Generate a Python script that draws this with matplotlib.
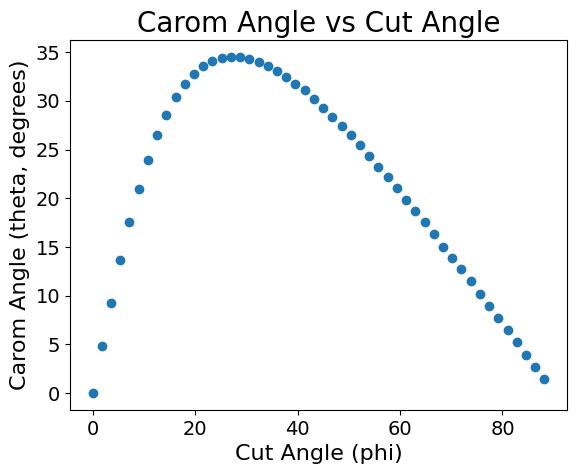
import matplotlib
matplotlib.use("Agg")
import matplotlib.pyplot as plt

# ------------------------------------------------------------
# Data
# ------------------------------------------------------------
cut_angle = [round(1.8 * i, 1) for i in range(50)]  # 0, 1.8, ..., 88.2

carom_angle = [
    0.0, 4.83, 9.31, 13.66, 17.56, 20.94, 23.92, 26.46, 28.6, 30.4,
    31.7, 32.75, 33.6, 34.1, 34.4, 34.5, 34.5, 34.3, 34.0, 33.6,
    33.1, 32.5, 31.75, 31.1, 30.2, 29.26, 28.34, 27.41, 26.49, 25.46,
    24.33, 23.2, 22.17, 21.08, 19.81, 18.68, 17.56, 16.32, 15.05, 13.86,
    12.73, 11.53, 10.16, 8.93, 7.7, 6.47, 5.24, 3.93, 2.67, 1.5,
]

# ------------------------------------------------------------
# Plot
# ------------------------------------------------------------
fig = plt.figure(figsize=(5.76, 4.74), dpi=100)
ax = fig.add_axes([0.1215, 0.135, 0.863, 0.780])

ax.scatter(cut_angle, carom_angle)

ax.set_title("Carom Angle vs Cut Angle", fontsize=20)
ax.set_xlabel("Cut Angle (phi)", fontsize=16)
ax.set_ylabel("Carom Angle (theta, degrees)", fontsize=16)
ax.tick_params(labelsize=14)

fig.savefig("out.png", dpi=100)
